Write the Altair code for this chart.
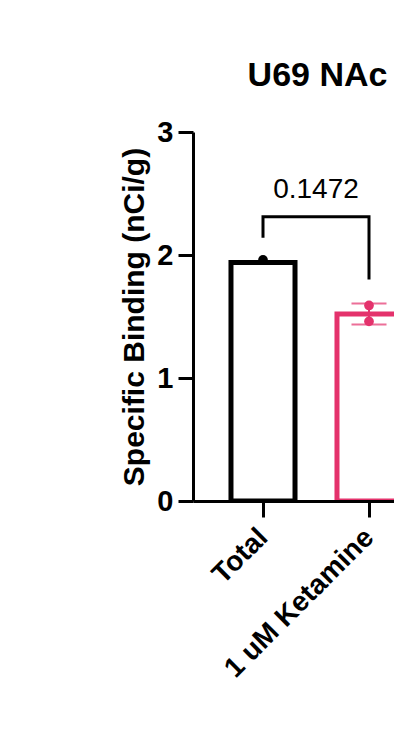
import altair as alt
import pandas as pd

# ---- data ----
categories = ["Total", "1 uM Ketamine"]
bar_means = [1.94, 1.52]
bar_errors = [0.0, 0.085]
bar_colors = ["#000000", "#E4326C"]

point_groups = ["Total", "1 uM Ketamine", "1 uM Ketamine"]
point_values = [1.96, 1.59, 1.46]

y_ticks = [0, 1, 2, 3]
title_text = "U69 NAc"
y_title = "Specific Binding (nCi/g)"

p_value_label = "0.1472"
bracket_top = 2.31
bracket_left_foot = 2.14
bracket_right_foot = 1.80
p_label_y = 2.46

FONT = "Liberation Sans"
BAR_HALF = 0.302

idx = {c: i for i, c in enumerate(categories)}
color_of = dict(zip(categories, bar_colors))

bars = pd.DataFrame({
    "cat": categories,
    "idx": list(range(len(categories))),
    "mean": bar_means,
    "err": bar_errors,
    "color": bar_colors,
})
pts = pd.DataFrame({
    "cat": point_groups,
    "idx": [idx[c] for c in point_groups],
    "value": point_values,
    "color": [color_of[c] for c in point_groups],
})
bracket = pd.DataFrame({
    "order": [0, 1, 2, 3],
    "x": [idx[categories[0]], idx[categories[0]], idx[categories[1]], idx[categories[1]]],
    "y": [bracket_left_foot, bracket_top, bracket_top, bracket_right_foot],
})
label = pd.DataFrame({
    "x": [(idx[categories[0]] + idx[categories[1]]) / 2],
    "y": [p_label_y],
    "text": [p_value_label],
})

label_expr = "[" + ",".join("'" + c + "'" for c in categories) + "][datum.value]"

PLOT_W = 201
xscale = alt.Scale(domain=[-70 / 106, (PLOT_W - 70) / 106], nice=False, zero=False)
yscale = alt.Scale(domain=[0, 3], nice=False, zero=True)

x_axis = alt.Axis(
    values=list(range(len(categories))), labelExpr=label_expr, title=None,
    labelAngle=-45, labelAlign="right", labelBaseline="middle",
    tickSize=16, tickWidth=3, domainWidth=3,
    domainColor="black", tickColor="black", labelColor="black",
    labelFont=FONT, labelFontSize=28, labelFontWeight="bold",
    labelPadding=16, labelLimit=0, grid=False, zindex=1, labelOverlap=False,
)
y_axis = alt.Axis(
    values=y_ticks, format="d", tickSize=15, tickWidth=3, domainWidth=3,
    domainColor="black", tickColor="black", labelColor="black",
    labelFont=FONT, labelFontSize=29, labelFontWeight="bold", labelPadding=5,
    title=y_title, titleFont=FONT, titleFontSize=30, titleFontWeight="bold",
    titleColor="black", titlePadding=7, grid=False, zindex=1,
)

bar_layer = alt.Chart(bars).transform_calculate(
    x0=f"datum.idx - {BAR_HALF}", x1=f"datum.idx + {BAR_HALF}", base="0"
).mark_rect(fill="white", strokeWidth=5, clip=True).encode(
    x=alt.X("x0:Q", scale=xscale, axis=x_axis),
    x2="x1:Q",
    y=alt.Y("mean:Q", scale=yscale, axis=y_axis),
    y2="base:Q",
    stroke=alt.Stroke("color:N", scale=None),
)

err_base = alt.Chart(bars).transform_filter("datum.err > 0").transform_calculate(
    lo="datum.mean - datum.err", hi="datum.mean + datum.err"
)
err_rule = err_base.mark_rule(strokeWidth=2).encode(
    x=alt.X("idx:Q", scale=xscale), y=alt.Y("lo:Q", scale=yscale), y2="hi:Q",
    color=alt.Color("color:N", scale=None),
)
cap_lo = err_base.mark_tick(orient="horizontal", size=35, thickness=2).encode(
    x=alt.X("idx:Q", scale=xscale), y=alt.Y("lo:Q", scale=yscale),
    color=alt.Color("color:N", scale=None),
)
cap_hi = err_base.mark_tick(orient="horizontal", size=35, thickness=2).encode(
    x=alt.X("idx:Q", scale=xscale), y=alt.Y("hi:Q", scale=yscale),
    color=alt.Color("color:N", scale=None),
)

dots = alt.Chart(pts).mark_circle(size=95, opacity=1).encode(
    x=alt.X("idx:Q", scale=xscale), y=alt.Y("value:Q", scale=yscale),
    color=alt.Color("color:N", scale=None),
)

bracket_layer = alt.Chart(bracket).mark_line(
    color="black", strokeWidth=3, strokeJoin="miter", strokeCap="butt"
).encode(
    x=alt.X("x:Q", scale=xscale), y=alt.Y("y:Q", scale=yscale), order="order:Q",
)

label_layer = alt.Chart(label).mark_text(
    font=FONT, fontSize=28, color="black", baseline="alphabetic", align="center"
).encode(
    x=alt.X("x:Q", scale=xscale), y=alt.Y("y:Q", scale=yscale), text="text:N",
)

chart = alt.layer(
    bar_layer, err_rule, cap_lo, cap_hi, dots, bracket_layer, label_layer
).properties(
    width=PLOT_W,
    height=369,
    title=alt.TitleParams(
        title_text, font=FONT, fontSize=34, fontWeight="bold", color="black",
        anchor="middle", dx=24, offset=25,
    ),
    padding={"left": 185, "top": 124, "right": 0, "bottom": 220},
    autosize=alt.AutoSizeParams(type="none"),
).configure_view(stroke=None)

chart.save("out.html", embed_options={"renderer": "svg", "actions": False})
